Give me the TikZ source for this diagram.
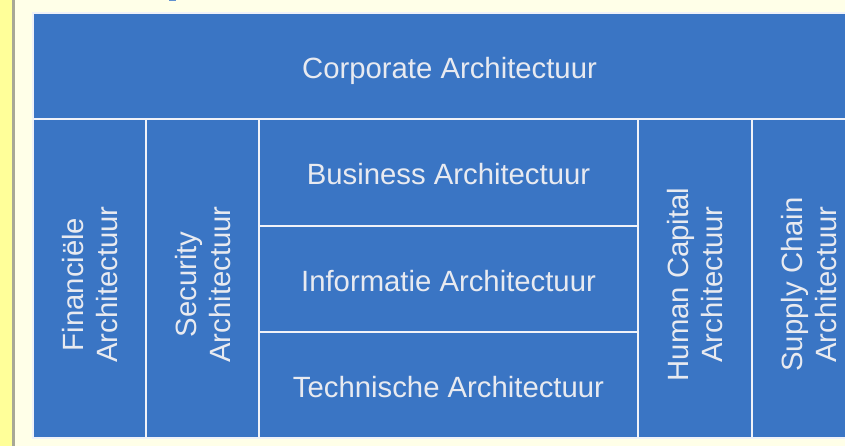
\documentclass[tikz,border=0pt]{standalone}
\usepackage{fontspec}
\setmainfont{Liberation Sans}
\definecolor{cellblue}{RGB}{58,117,196}
\definecolor{cream}{RGB}{255,255,232}
\definecolor{strip}{RGB}{255,255,153}
\definecolor{stripline}{RGB}{168,168,150}
\definecolor{celltext}{RGB}{232,234,240}
\definecolor{cellline}{RGB}{240,242,248}
\tikzset{
  cell/.style={draw=cellline, line width=2pt, fill=cellblue, inner sep=0pt, outer sep=0pt,
    anchor=north west, text=celltext, font=\fontsize{29.3}{34}\selectfont,
    text height=25pt, text depth=0pt},
  vtext/.style={rotate=90, align=center, text=celltext, inner sep=0pt,
    font=\fontsize{29.3}{34}\selectfont, text depth=0pt}
}
\begin{document}
\begin{tikzpicture}[x=1pt,y=-1pt]
\useasboundingbox (0,0) rectangle (845,446);
\clip (0,0) rectangle (845,446);
\fill[cream] (0,0) rectangle (845,446);
\fill[strip] (0,0) rectangle (12,446);
\fill[stripline] (12,0) rectangle (15,446);
\fill[cellblue!80] (169,0) rectangle (176,1.5);
% top banner
\node[cell, minimum width=833pt, minimum height=106pt] (corp) at (33,13) {Corporate Architectuur};
% columns
\node[cell, minimum width=113pt, minimum height=319pt] (fin) at (33,119) {};
\node[cell, minimum width=113pt, minimum height=319pt] (sec) at (146,119) {};
\node[cell, minimum width=379pt, minimum height=107pt] (bus) at (259,119) {Business Architectuur};
\node[cell, minimum width=379pt, minimum height=106pt] (inf) at (259,226) {Informatie Architectuur};
\node[cell, minimum width=379pt, minimum height=106pt] (tech) at (259,332) {Technische Architectuur};
\node[cell, minimum width=114pt, minimum height=319pt] (hum) at (638,119) {};
\node[cell, minimum width=114pt, minimum height=319pt] (sup) at (752,119) {};
% vertical labels
\node[vtext] (fint) at ([yshift=-6pt]fin.center) {Financiële\\Architectuur};
\node[vtext] (sect) at ([yshift=-6pt]sec.center) {Security\\Architectuur};
\node[vtext] (humt) at ([yshift=-6pt]hum.center) {Human Capital\\Architectuur};
\node[vtext] (supt) at ([yshift=-6pt]sup.center) {Supply Chain\\Architectuur};
\end{tikzpicture}
\end{document}
